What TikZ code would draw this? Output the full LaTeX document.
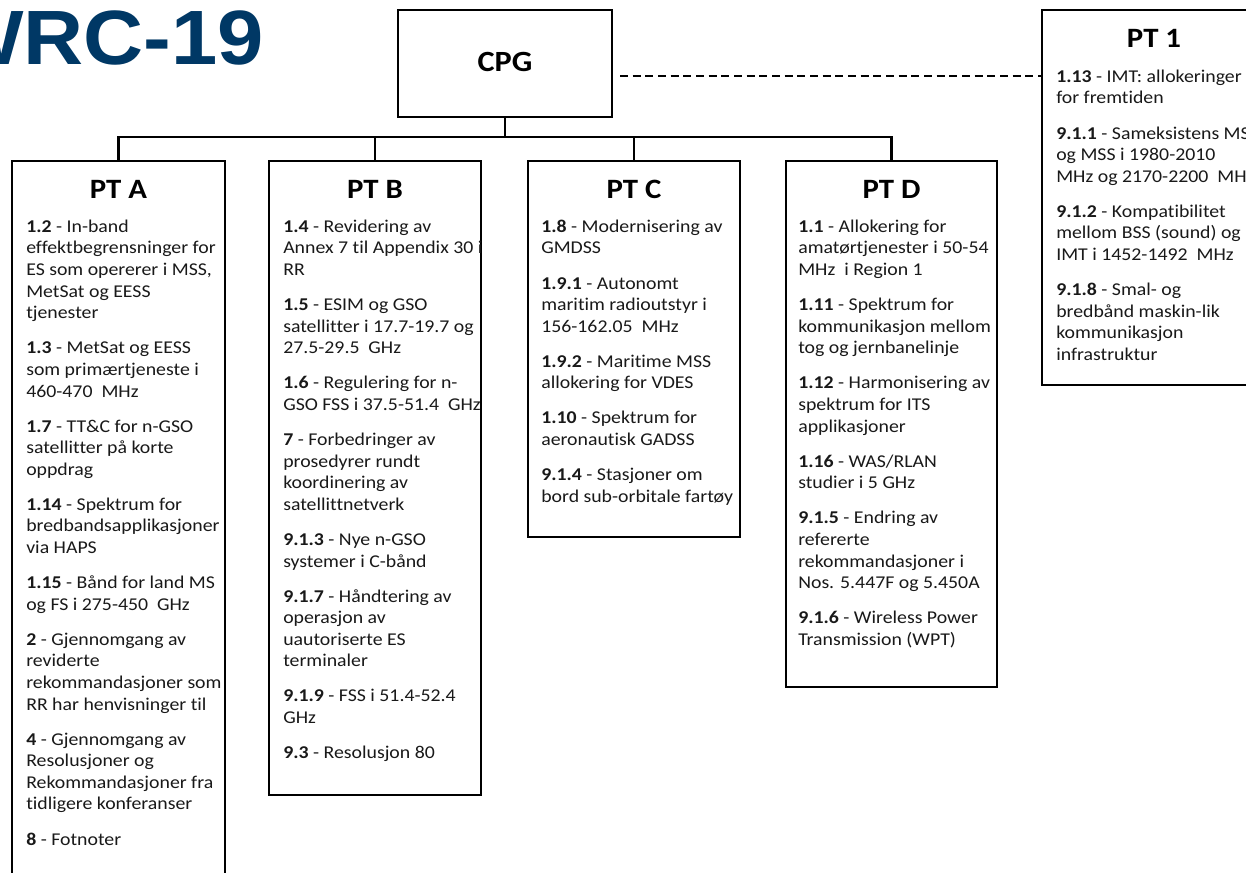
\documentclass[tikz,border=0pt]{standalone}
\usepackage{fontspec}
\setmainfont{Carlito}[FakeStretch=1.1,Ligatures=NoCommon]
\newfontfamily\wrcfont{Liberation Sans}[FakeStretch=1.08]
\usetikzlibrary{fit}
\definecolor{wrcblue}{RGB}{0,56,101}
\newcommand\bodyfnt{\fontsize{13.5}{16.2}\selectfont}
\newcommand\hd[1]{\textbf{#1}}
\newcommand\pg{\\[10.1pt]}
\begin{document}
\begin{tikzpicture}[x=0.75pt,y=-0.75pt,
  boxst/.style={draw, line width=1.6pt, inner sep=0pt},
  wire/.style={line width=1.6pt},
  dashline/.style={line width=0.9pt, dash pattern=on 6pt off 3.5pt},
  ttl/.style={anchor=base, font=\fontsize{21}{25}\selectfont\bfseries, inner sep=0pt},
  body/.style={anchor=north west, align=left, inner sep=0pt, font=\bodyfnt, text=black!90}]
\useasboundingbox (0,0) rectangle (1246,873);
\clip (0,0) rectangle (1246,873);
\fill[white] (0,0) rectangle (1246,873);

\node[anchor=base west, inner sep=0pt, text=wrcblue,
  font=\wrcfont\bfseries\fontsize{57.75}{60}\selectfont] (wrc) at (-55,65) {WRC-19};

% boxes
\node[boxst, fit={(398,10)(612,117)}] (cpg) {};
\node[ttl, font=\fontsize{22}{26}\selectfont\bfseries] (cpgt) at (505,72) {CPG};
\node[boxst, fit={(12,161)(225,900)}] (ptA) {};
\node[boxst, fit={(269,161)(481,795)}] (ptB) {};
\node[boxst, fit={(528,161)(740,537)}] (ptC) {};
\node[boxst, fit={(786,161)(997,687)}] (ptD) {};
\node[boxst, fit={(1042,10)(1270,385)}] (pt1) {};

% connectors
\coordinate (bar) at (0,137);
\draw[wire] (cpg.south) -- (cpg.south |- bar);
\draw[wire] (ptA.north) -- (ptA.north |- bar) -- (ptD.north |- bar) -- (ptD.north);
\draw[wire] (ptB.north) -- (ptB.north |- bar);
\draw[wire] (ptC.north) -- (ptC.north |- bar);
\coordinate (dl) at (620,76);
\draw[dashline] (dl) -- (dl -| pt1.west);

% titles
\node[ttl] (tA) at (118.5,199) {PT A};
\node[ttl] (tB) at (375,199) {PT B};
\node[ttl] (tC) at (634,199) {PT C};
\node[ttl] (tD) at (891.5,199) {PT D};
\node[ttl] (t1) at (1154,48) {PT 1};

% bodies
\node[body] (bA) at (26,217) {\strut\hd{1.2} - In-band\\
effektbegrensninger for\\
ES som opererer i MSS,\\
MetSat og EESS\\
tjenester\pg
\hd{1.3} - MetSat og EESS\\
som primærtjeneste i\\
460-470\ \ MHz\pg
\hd{1.7} - TT\&C for n-GSO\\
satellitter på korte\\
oppdrag\pg
\hd{1.14} - Spektrum for\\
bredbandsapplikasjoner\\
via HAPS\pg
\hd{1.15} - Bånd for land MS\\
og FS i 275-450\ \ GHz\pg
\hd{2} - Gjennomgang av\\
reviderte\\
rekommandasjoner som\\
RR har henvisninger til\pg
\hd{4} - Gjennomgang av\\
Resolusjoner og\\
Rekommandasjoner fra\\
tidligere konferanser\pg
\hd{8} - Fotnoter};

\node[body] (bB) at (283,217) {\strut\hd{1.4} - Revidering av\\
Annex 7 til Appendix 30 i\\
RR\pg
\hd{1.5} - ESIM og GSO\\
satellitter i 17.7-19.7 og\\
27.5-29.5\ \ GHz\pg
\hd{1.6} - Regulering for n-\\
GSO FSS i 37.5-51.4\ \ GHz\pg
\hd{7} - Forbedringer av\\
prosedyrer rundt\\
koordinering av\\
satellittnetverk\pg
\hd{9.1.3} - Nye n-GSO\\
systemer i C-bånd\pg
\hd{9.1.7} - Håndtering av\\
operasjon av\\
uautoriserte ES\\
terminaler\pg
\hd{9.1.9} - FSS i 51.4-52.4\\
GHz\pg
\hd{9.3} - Resolusjon 80};

\node[body] (bC) at (541,217) {\strut\hd{1.8} - Modernisering av\\
GMDSS\pg
\hd{1.9.1} - Autonomt\\
maritim radioutstyr i\\
156-162.05\ \ MHz\pg
\hd{1.9.2} - Maritime MSS\\
allokering for VDES\pg
\hd{1.10} - Spektrum for\\
aeronautisk GADSS\pg
\hd{9.1.4} - Stasjoner om\\
bord sub-orbitale fartøy};

\node[body] (bD) at (798,217) {\strut\hd{1.1} - Allokering for\\
amatørtjenester i 50-54\\
MHz\ \ i Region 1\pg
\hd{1.11} - Spektrum for\\
kommunikasjon mellom\\
tog og jernbanelinje\pg
\hd{1.12} - Harmonisering av\\
spektrum for ITS\\
applikasjoner\pg
\hd{1.16} - WAS/RLAN\\
studier i 5 GHz\pg
\hd{9.1.5} - Endring av\\
refererte\\
rekommandasjoner i\\
Nos. 5.447F og 5.450A\pg
\hd{9.1.6} - Wireless Power\\
Transmission (WPT)};

\node[body] (b1) at (1056,67) {\strut\hd{1.13} - IMT: allokeringer\\
for fremtiden\pg
\hd{9.1.1} - Sameksistens MS\\
og MSS i 1980-2010\\
MHz og 2170-2200\ \ MHz\pg
\hd{9.1.2} - Kompatibilitet\\
mellom BSS (sound) og\\
IMT i 1452-1492\ \ MHz\pg
\hd{9.1.8} - Smal- og\\
bredbånd maskin-lik\\
kommunikasjon\\
infrastruktur};
\end{tikzpicture}
\end{document}
